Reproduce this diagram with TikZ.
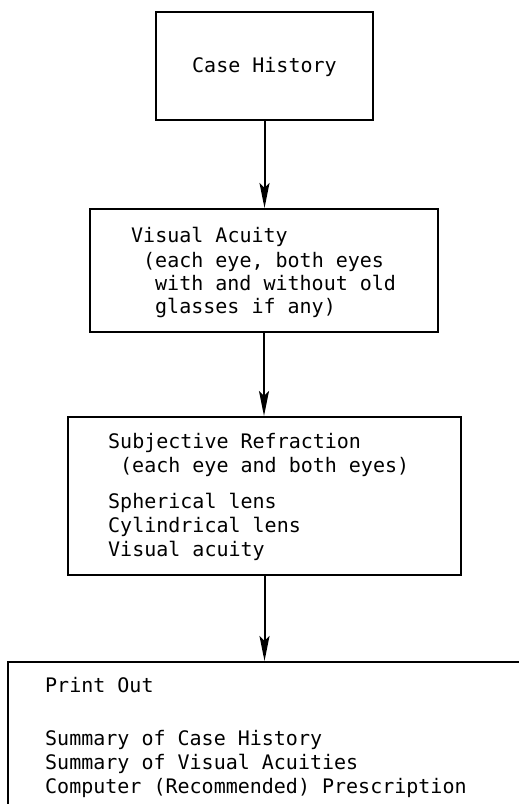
\documentclass[tikz,border=0pt]{standalone}
\usepackage{fontspec}
\newfontfamily\mono{DejaVu Sans Mono}
\usetikzlibrary{arrows.meta}
\begin{document}
\begin{tikzpicture}[x=1pt,y=-1pt,
  box/.style={draw, line width=2pt, rectangle, inner sep=0pt},
  txt/.style={anchor=base west, inner sep=0pt, font=\mono\fontsize{20}{24}\selectfont},
  flow/.style={line width=2pt, -{Stealth[length=25pt,width=10pt,inset=5pt]}}]
\useasboundingbox (0,0) rectangle (519,804);
\fill[white] (0,0) rectangle (519,804);
\clip (0,0) rectangle (519,804);

% process boxes
\node[box, minimum width=217pt, minimum height=108pt] (hist) at (264.5,66) {};
\node[box, minimum width=348pt, minimum height=123pt] (acuity) at (264,270.5) {};
\node[box, minimum width=393pt, minimum height=158pt] (refr) at (264.5,496) {};
% the print-out box runs off the page to the right and bottom
\node[box, minimum width=592pt, minimum height=238pt] (print) at (304,781) {};

% box texts
\node[txt] (t1) at (192,72) {Case History};

\node[txt] (t2a) at (131,242) {Visual Acuity};
\node[txt] (t2b) at (143,267) {(each eye, both eyes};
\node[txt] (t2c) at (155,290) {with and without old};
\node[txt] (t2d) at (155,313) {glasses if any)};

\node[txt] (t3a) at (108,448) {Subjective Refraction};
\node[txt] (t3b) at (120,472) {(each eye and both eyes)};
\node[txt] (t3c) at (108,508) {Spherical lens};
\node[txt] (t3d) at (108,532) {Cylindrical lens};
\node[txt] (t3e) at (108,556) {Visual acuity};

\node[txt] (t4a) at (45,692) {Print Out};
\node[txt] (t4b) at (45,745) {Summary of Case History};
\node[txt] (t4c) at (45,769) {Summary of Visual Acuities};
\node[txt] (t4d) at (45,793) {Computer (Recommended) Prescription};

% flow arrows
\draw[flow] (hist.south) -- (hist.south |- acuity.north);
\draw[flow] (acuity.south) -- (acuity.south |- refr.north);
\draw[flow] (refr.south) -- (refr.south |- print.north);
\end{tikzpicture}
\end{document}
